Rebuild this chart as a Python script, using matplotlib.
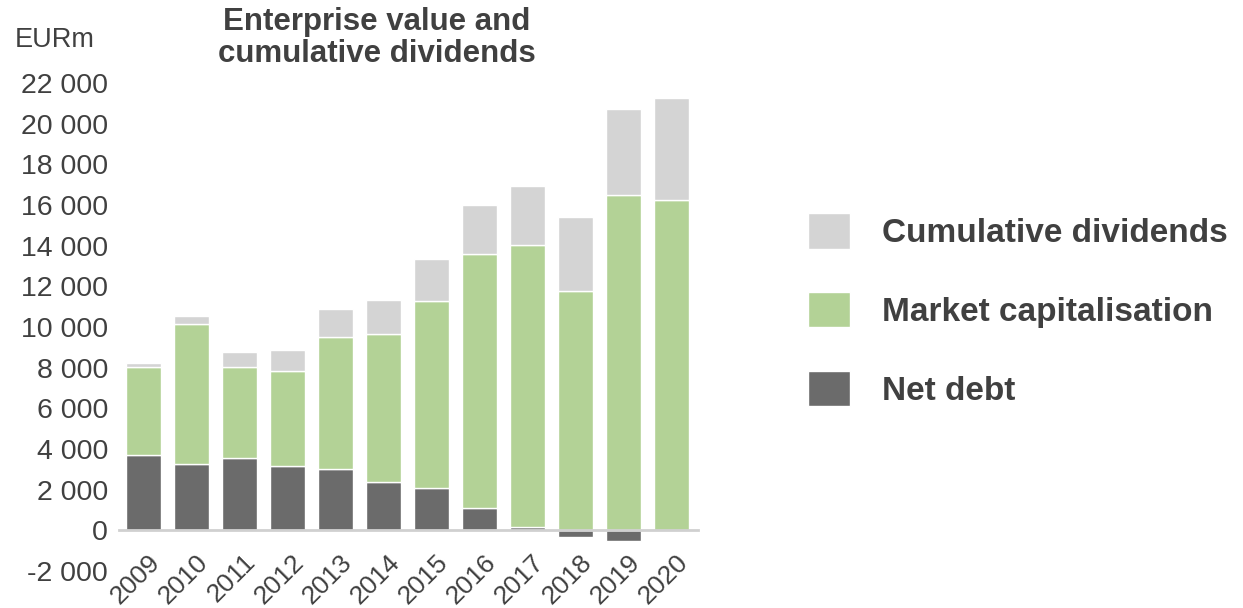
import matplotlib.pyplot as plt
import matplotlib.transforms as mtransforms
import numpy as np

years = ["2009", "2010", "2011", "2012", "2013", "2014", "2015", "2016", "2017", "2018", "2019", "2020"]
net_debt = [3690, 3250, 3550, 3150, 3000, 2360, 2070, 1080, 150, -350, -520, 20]
market_cap = [4340, 6900, 4480, 4680, 6510, 7300, 9210, 12520, 13890, 11770, 16500, 16250]
cum_div = [200, 390, 740, 1040, 1380, 1670, 2070, 2410, 2910, 3650, 4240, 4980]

plt.rcParams['font.family'] = ['Liberation Sans', 'DejaVu Sans']
text_col = '#404040'

fig = plt.figure(figsize=(12.43, 6.08), dpi=100)
ax = fig.add_axes([119 / 1243, 37 / 608, (698 - 119) / 1243, (571 - 83) / 608])

# x axis line sits at zero, set first so tick settings are kept
for s in ['top', 'right', 'left']:
    ax.spines[s].set_visible(False)
ax.spines['bottom'].set_position(('data', 0))
ax.spines['bottom'].set_color('#d0d0d0')
ax.spines['bottom'].set_linewidth(2)
ax.spines['bottom'].set_zorder(3)

x = np.arange(len(years))
nd = np.array(net_debt)
mc = np.array(market_cap)
cd = np.array(cum_div)
mc_bottom = np.where(nd > 0, nd, 0)
w = 0.74
ax.bar(x, nd, w, color='#6b6b6b', edgecolor='white', linewidth=1, label='Net debt', zorder=2)
ax.bar(x, mc, w, bottom=mc_bottom, color='#b3d296', edgecolor='white', linewidth=1,
       label='Market capitalisation', zorder=2)
ax.bar(x, cd, w, bottom=mc_bottom + mc, color='#d4d4d4', edgecolor='white', linewidth=1,
       label='Cumulative dividends', zorder=2)

ax.set_xlim(-0.51, 11.55)
ax.set_ylim(-2000, 22000)
ax.set_yticks(range(-2000, 22001, 2000))
ax.set_yticklabels([f"{v:,}".replace(",", " ") for v in range(-2000, 22001, 2000)],
                   fontsize=20.5, color=text_col)
ax.set_xticks(x)
ax.set_xticklabels(years, rotation=45, ha='right', va='top', rotation_mode='anchor',
                   fontsize=19, color=text_col)
ax.tick_params(axis='both', length=0)
ax.tick_params(axis='y', pad=8)
ax.tick_params(axis='x', pad=14)
offset = mtransforms.ScaledTranslation(4 / 100, 0, fig.dpi_scale_trans)
for lab in ax.get_xticklabels():
    lab.set_transform(lab.get_transform() + offset)

fig.text(15 / 1243, 1 - 40 / 608, "EURm", fontsize=19.5, color=text_col, va='center', ha='left')
fig.text(377 / 1243, 1 - 38 / 608, "Enterprise value and\ncumulative dividends", fontsize=22.5,
         fontweight='bold', color=text_col, ha='center', va='center', linespacing=1.12)

h, l = ax.get_legend_handles_labels()
fs = 24
leg = fig.legend(h[::-1], l[::-1], loc='center left', bbox_to_anchor=(808 / 1243, 1 - 310 / 608),
                 frameon=False, fontsize=fs, handlelength=42 / (fs * 100 / 72),
                 handleheight=42 / (fs * 100 / 72), labelspacing=1.28, handletextpad=0.95,
                 borderpad=0, borderaxespad=0)
for t in leg.get_texts():
    t.set_fontweight('bold')
    t.set_color(text_col)

fig.savefig("out.png", dpi=100)
